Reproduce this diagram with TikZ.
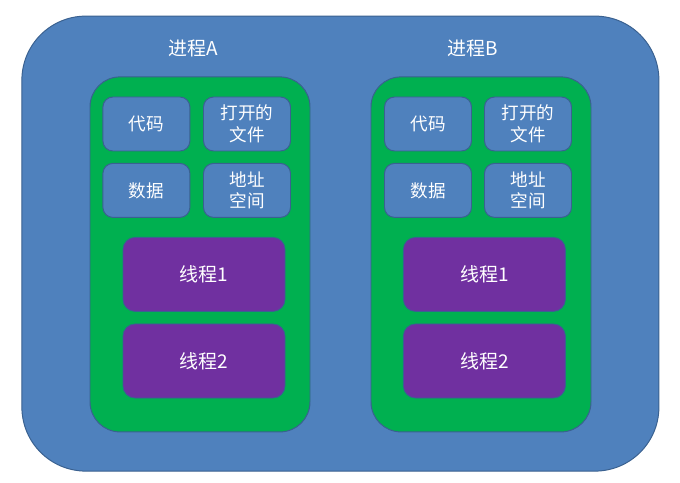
\documentclass[tikz,border=0pt]{standalone}
\usepackage{fontspec}
\newfontfamily\cjk{Noto Sans CJK SC}
\usetikzlibrary{positioning}

\definecolor{procblue}{HTML}{4F81BD}
\definecolor{edgeblue}{HTML}{3A6190}
\definecolor{resgreen}{HTML}{00B050}
\definecolor{thrpurple}{HTML}{7030A0}

\begin{document}
\begin{tikzpicture}[
  outer/.style={
    draw=edgeblue, line width=0.7pt, fill=procblue, rounded corners=1.6cm,
    minimum width=15.925cm, minimum height=11.375cm
  },
  panel/.style={
    draw=edgeblue, line width=0.7pt, fill=resgreen, rounded corners=0.75cm,
    minimum width=5.5cm, minimum height=8.875cm
  },
  res/.style={
    draw=edgeblue, line width=0.7pt, fill=procblue, rounded corners=0.25cm,
    minimum width=2.175cm, minimum height=1.35cm,
    align=center, text=white, font=\cjk\fontsize{12.5}{15.5}\selectfont
  },
  thr/.style={
    draw=edgeblue, line width=0.6pt, fill=thrpurple, rounded corners=0.3cm,
    minimum width=4.05cm, minimum height=1.85cm,
    text=white, font=\cjk\fontsize{13.5}{16}\selectfont
  },
  title/.style={text=white, font=\cjk\fontsize{13.5}{16}\selectfont},
]
\useasboundingbox (0,0) rectangle (17,-12.075);

%% --- Outer frame ----------------------------------------------------
\node[outer] (frame) at (8.51, -6.09) {};

%% --- Process A ------------------------------------------------------
\node[title] (titleA) at (4.825, -1.2) {进程A};
\node[panel] (procA) at (5.0, -6.36) {};

\node[res] (codeA) at (3.66, -3.1)  {代码};
\node[res] (fileA) at (6.175, -3.1) {打开的\\文件};
\node[res] (dataA) at (3.66, -4.76) {数据};
\node[res] (addrA) at (6.175, -4.76) {地址\\空间};

\node[thr] (thrAone) at (5.1, -6.86)  {线程1};
\node[thr] (thrAtwo) at (5.1, -9.025) {线程2};

%% --- Process B ------------------------------------------------------
\node[title] (titleB) at (11.825, -1.2) {进程B};
\node[panel] (procB) at (12.025, -6.36) {};

\node[res] (codeB) at (10.7, -3.1)  {代码};
\node[res] (fileB) at (13.2, -3.1)  {打开的\\文件};
\node[res] (dataB) at (10.7, -4.76) {数据};
\node[res] (addrB) at (13.2, -4.76) {地址\\空间};

\node[thr] (thrBone) at (12.11, -6.86)  {线程1};
\node[thr] (thrBtwo) at (12.11, -9.025) {线程2};

\end{tikzpicture}
\end{document}
